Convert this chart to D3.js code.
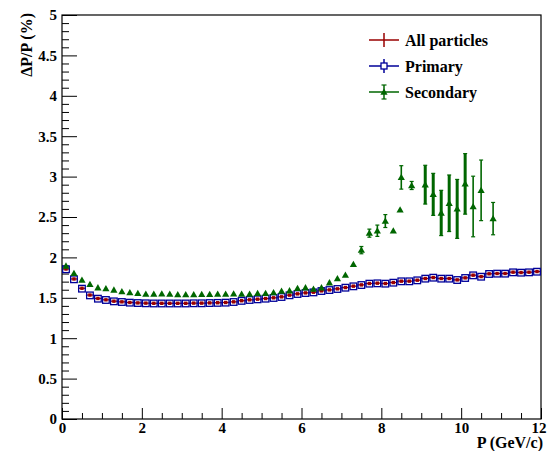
<!DOCTYPE html>
<html>
<head>
<meta charset="utf-8">
<script src="https://cdn.jsdelivr.net/npm/d3@7"></script>
<style>
  html, body { margin: 0; padding: 0; background: #fff; }
  svg text { font-family: "Liberation Serif", "DejaVu Serif", serif !important; font-weight: bold; fill: #000; }
</style>
</head>
<body>
<svg id="chart" width="547" height="451" font-family="Liberation Serif, DejaVu Serif, serif"></svg>
<script>
// ---------- data ----------
const pBins = [0.1,0.3,0.5,0.7,0.9,1.1,1.3,1.5,1.7,1.9,2.1,2.3,2.5,2.7,2.9,3.1,3.3,3.5,3.7,3.9,
  4.1,4.3,4.5,4.7,4.9,5.1,5.3,5.5,5.7,5.9,6.1,6.3,6.5,6.7,6.9,7.1,7.3,7.5,7.7,7.9,
  8.1,8.3,8.5,8.7,8.9,9.1,9.3,9.5,9.7,9.9,10.1,10.3,10.5,10.7,10.9,11.1,11.3,11.5,11.7,11.9];
const primaryRes = [1.853,1.729,1.613,1.530,1.489,1.473,1.456,1.448,1.440,1.435,1.432,1.430,1.430,1.430,1.430,1.430,1.432,1.432,1.435,1.437,
  1.440,1.448,1.462,1.473,1.481,1.489,1.498,1.510,1.531,1.547,1.559,1.567,1.584,1.596,1.609,1.625,1.642,1.658,1.675,1.679,
  1.675,1.687,1.704,1.704,1.716,1.737,1.749,1.737,1.737,1.720,1.745,1.778,1.761,1.795,1.799,1.799,1.815,1.811,1.815,1.823];
const allRes = [1.856,1.733,1.618,1.534,1.492,1.475,1.458,1.450,1.442,1.437,1.434,1.432,1.432,1.432,1.432,1.432,1.434,1.434,1.437,1.439,
  1.442,1.450,1.464,1.475,1.483,1.491,1.500,1.512,1.533,1.549,1.561,1.569,1.586,1.598,1.611,1.627,1.644,1.660,1.677,1.681,
  1.677,1.689,1.706,1.706,1.718,1.739,1.751,1.739,1.739,1.722,1.747,1.780,1.763,1.797,1.801,1.801,1.817,1.813,1.817,1.825];
const resErr = 0.01;
const pHalfWidth = 0.1;

const secP = [0.1,0.3,0.5,0.7,0.9,1.1,1.3,1.5,1.7,1.9,2.1,2.3,2.5,2.7,2.9,3.1,3.3,3.5,3.7,3.9,
  4.1,4.3,4.5,4.7,4.9,5.1,5.3,5.5,5.7,5.9,6.1,6.3,6.5,6.7,6.9,7.1,7.3,7.5,7.7,7.9,
  8.1,8.3,8.47,8.5,8.76,9.1,9.3,9.5,9.7,9.9,10.1,10.3,10.5,10.8];
const secRes = [1.894,1.803,1.720,1.667,1.625,1.613,1.597,1.576,1.564,1.555,1.547,1.547,1.550,1.545,1.540,1.540,1.540,1.543,1.543,1.545,
  1.547,1.550,1.545,1.545,1.555,1.555,1.564,1.584,1.588,1.617,1.625,1.609,1.625,1.687,1.737,1.782,1.914,2.09,2.30,2.33,
  2.45,2.33,2.59,2.99,2.89,2.90,2.78,2.55,2.67,2.60,2.91,2.63,2.83,2.48];
const secErr = [0.01,0.01,0.01,0.01,0.01,0.01,0.01,0.01,0.01,0.01,0.01,0.01,0.01,0.01,0.01,0.01,0.01,0.01,0.01,0.01,
  0.01,0.01,0.01,0.01,0.01,0.01,0.01,0.01,0.01,0.01,0.01,0.01,0.01,0.01,0.01,0.015,0.03,0.045,0.05,0.07,
  0.08,0.015,0.015,0.145,0.05,0.24,0.26,0.28,0.35,0.365,0.375,0.375,0.375,0.2];

const xTicks = [0,2,4,6,8,10,12];
const yTicks = [0,0.5,1,1.5,2,2.5,3,3.5,4,4.5,5];
const legendLabels = ["All particles","Primary","Secondary"];
const xTitle = "P (GeV/c)";
const yTitle = "\u0394P/P (%)";

// ---------- styles ----------
const RED = "#990000", BLUE = "#000099", GREEN = "#006600";
const FONT = "Liberation Serif, DejaVu Serif, serif";

const svg = d3.select("#chart");
const x = d3.scaleLinear().domain([0,12]).range([62,541]);
const y = d3.scaleLinear().domain([0,5]).range([419,15]);

// axes
const xMinor = d3.range(0, 12.01, 0.5).filter(v => Math.abs(v/2 - Math.round(v/2)) > 1e-6);
const yMinor = d3.range(0, 5.001, 0.1).map(v => +v.toFixed(2)).filter(v => Math.abs(v*2 - Math.round(v*2)) > 1e-6);

const gx = svg.append("g").attr("transform", "translate(0,419)")
  .call(d3.axisBottom(x).tickValues(xTicks).tickSize(-11).tickPadding(3).tickFormat(d3.format("d")));
gx.attr("font-family", FONT);
gx.select(".domain").remove();
gx.selectAll("text").attr("font-size", 15).attr("dy", "0.71em").attr("font-family", FONT).attr("font-weight", "bold");
gx.selectAll("line").attr("stroke", "#000");
// last label sits at the right edge; keep it inside the picture
gx.selectAll(".tick text").filter(d => d === 12).attr("text-anchor", "end").attr("x", 546 - x(12));
const gxm = svg.append("g").attr("transform", "translate(0,419)")
  .call(d3.axisBottom(x).tickValues(xMinor).tickSize(-6).tickFormat(""));
gxm.select(".domain").remove();

const gy = svg.append("g").attr("transform", "translate(62,0)")
  .call(d3.axisLeft(y).tickValues(yTicks).tickSize(-15).tickPadding(5).tickFormat(d => String(d)));
gy.attr("font-family", FONT);
gy.select(".domain").remove();
gy.selectAll("text").attr("font-size", 15).attr("font-family", FONT).attr("font-weight", "bold");
const gym = svg.append("g").attr("transform", "translate(62,0)")
  .call(d3.axisLeft(y).tickValues(yMinor).tickSize(-7).tickFormat(""));
gym.select(".domain").remove();

// frame
svg.append("rect").attr("x", x(0)).attr("y", y(5)).attr("width", x(12)-x(0)).attr("height", y(0)-y(5))
  .attr("fill", "none").attr("stroke", "#000").attr("stroke-width", 1.2);

// titles
svg.append("text").attr("x", 543).attr("y", 448).attr("text-anchor", "end").attr("font-size", 16)
  .attr("font-family", FONT).attr("font-weight", "bold").text(xTitle);
svg.append("text").attr("transform", "translate(32,13) rotate(-90)").attr("text-anchor", "end").attr("font-size", 16)
  .attr("font-family", FONT).attr("font-weight", "bold").text(yTitle);

const plot = svg.append("g");

// ---------- All particles (red) ----------
const red = plot.append("g");
pBins.forEach((p, i) => {
  const cx = x(p), cy = y(allRes[i]);
  red.append("line").attr("x1", x(p - pHalfWidth)).attr("x2", x(p + pHalfWidth)).attr("y1", cy).attr("y2", cy)
    .attr("stroke", RED).attr("stroke-width", 1.3);
  red.append("line").attr("x1", cx).attr("x2", cx).attr("y1", y(allRes[i] - resErr)).attr("y2", y(allRes[i] + resErr))
    .attr("stroke", RED).attr("stroke-width", 1.3);
});

// ---------- Primary (blue) ----------
const blue = plot.append("g");
const sq = 3.3;
pBins.forEach((p, i) => {
  const cx = x(p), cy = y(primaryRes[i]);
  blue.append("line").attr("x1", x(p - pHalfWidth)).attr("x2", cx - sq).attr("y1", cy).attr("y2", cy)
    .attr("stroke", BLUE).attr("stroke-width", 1.3);
  blue.append("line").attr("x1", cx + sq).attr("x2", x(p + pHalfWidth)).attr("y1", cy).attr("y2", cy)
    .attr("stroke", BLUE).attr("stroke-width", 1.3);
});
pBins.forEach((p, i) => {
  const cx = x(p), cy = y(allRes[i]);
  red.append("rect").attr("x", cx - 1.7).attr("y", cy - 1.7).attr("width", 3.4).attr("height", 3.4).attr("fill", RED);
});
pBins.forEach((p, i) => {
  const cx = x(p), cy = y(primaryRes[i]);
  blue.append("rect").attr("x", cx - sq).attr("y", cy - sq).attr("width", 2*sq).attr("height", 2*sq)
    .attr("fill", "none").attr("stroke", BLUE).attr("stroke-width", 1.3);
});

// ---------- Secondary (green) ----------
const green = plot.append("g");
const triPath = (cx, cy, s) => `M${cx},${cy - s} L${cx + s},${cy + s*0.75} L${cx - s},${cy + s*0.75} Z`;
secP.forEach((p, i) => {
  const cx = x(p), v = secRes[i], e = secErr[i];
  const y1 = y(v - e), y2 = y(v + e);
  if (y1 - y2 > 6) {
    const thick = p >= 9 && p <= 10.2;
    green.append("line").attr("x1", cx).attr("x2", cx).attr("y1", y1).attr("y2", y2)
      .attr("stroke", GREEN).attr("stroke-width", thick ? 3 : 1.6);
    [y1, y2].forEach(yy => green.append("line").attr("x1", cx - 2).attr("x2", cx + 2).attr("y1", yy).attr("y2", yy)
      .attr("stroke", GREEN).attr("stroke-width", 1.2));
  }
  green.append("path").attr("d", triPath(cx, y(v), 3.6)).attr("fill", GREEN);
});

// ---------- legend ----------
const legY = [40, 66, 92];
const legX1 = 369, legX2 = 399, legTx = 405;
const leg = svg.append("g");
const legColors = [RED, BLUE, GREEN];
legendLabels.forEach((lab, i) => {
  const cy = legY[i], cx = (legX1 + legX2) / 2, c = legColors[i];
  leg.append("line").attr("x1", legX1).attr("x2", legX2).attr("y1", cy).attr("y2", cy).attr("stroke", c).attr("stroke-width", 1.5);
  leg.append("line").attr("x1", cx).attr("x2", cx).attr("y1", cy - 7).attr("y2", cy + 7).attr("stroke", c).attr("stroke-width", 1.5);
  if (i === 1) {
    leg.append("rect").attr("x", cx - 3).attr("y", cy - 3).attr("width", 6).attr("height", 6)
      .attr("fill", "#fff").attr("stroke", c).attr("stroke-width", 1.3);
  }
  if (i === 2) {
    [cy - 7, cy + 7].forEach(yy => leg.append("line").attr("x1", cx - 2.5).attr("x2", cx + 2.5).attr("y1", yy).attr("y2", yy)
      .attr("stroke", c).attr("stroke-width", 1.2));
    leg.append("path").attr("d", triPath(cx, cy, 3.6)).attr("fill", c);
  }
  leg.append("text").attr("x", legTx).attr("y", cy).attr("dy", "0.35em").attr("font-size", 16)
    .attr("font-family", FONT).attr("font-weight", "bold").text(lab);
});
</script>
</body>
</html>
